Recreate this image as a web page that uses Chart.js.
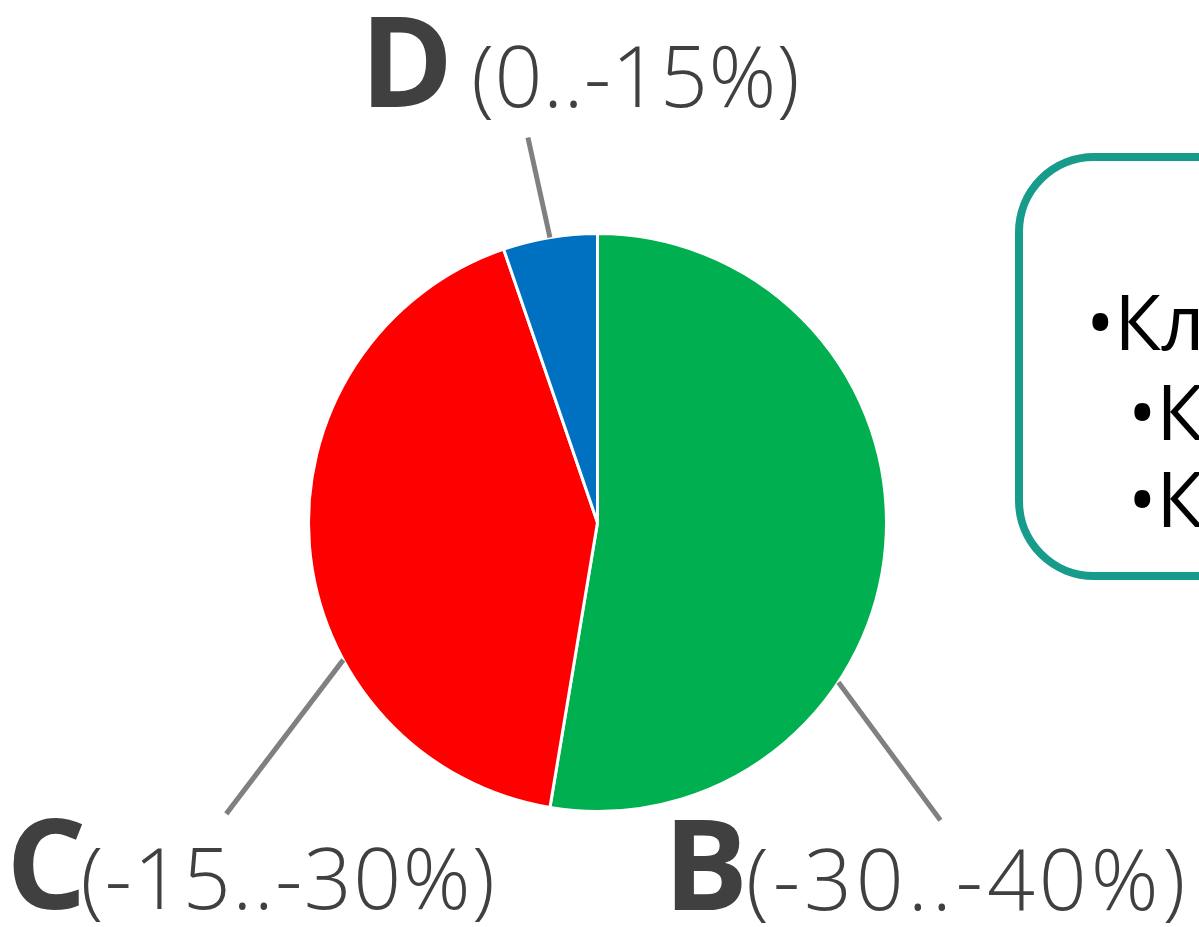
<!DOCTYPE html>
<html>
<head>
<meta charset="utf-8">
<script src="https://cdn.jsdelivr.net/npm/chart.js@4/dist/chart.umd.min.js"></script>
<style>
  html, body { margin: 0; padding: 0; background: #fff; overflow: hidden; }
  #wrap { width: 1199px; height: 927px; }
</style>
</head>
<body>
<div id="wrap"><canvas id="pie"></canvas></div>
<script>
(function () {
    'use strict';

    // slice data, clockwise from 12 o'clock
    const letters = ['B', 'C', 'D'];
    const ranges = ['(-30..-40%)', '(-15..-30%)', '(0..-15%)'];
    const values = [10, 8, 1];
    const colors = ['#00B050', '#FF0000', '#0070C0'];

    // text of the (clipped) box on the right
    const boxLines = ['•Клиенты', '•Конкуренты', '•Каналы'];

    // leader line placement: where on the slice rim it starts (0..1 across the slice),
    // the line vector, and where the label sits relative to the line end
    const leaders = [
        { t: 0.652, dx: 102, dy: 138, lx: -277, ly: 90, gap: -2, spacing: 4 },
        { t: 0.344, dx: -117, dy: 154, lx: -220, ly: 95, gap: -6, spacing: 1.5 },
        { t: 0.5, dx: -22, dy: -100, lx: -168, ly: -30, gap: 18, spacing: 0.5 }
    ];

    const TEXT = '#404040';
    const FONT = '"Open Sans", "Noto Sans", sans-serif';

    const labelsPlugin = {
        id: 'sliceLabels',
        afterDraw(chart) {
            const ctx = chart.ctx;
            const arcs = chart.getDatasetMeta(0).data;
            ctx.save();
            arcs.forEach((arc, i) => {
                const p = arc.getProps(['x', 'y', 'startAngle', 'endAngle', 'outerRadius'], true);
                const L = leaders[i];
                const a = p.startAngle + (p.endAngle - p.startAngle) * L.t;
                const sx = p.x + Math.cos(a) * p.outerRadius;
                const sy = p.y + Math.sin(a) * p.outerRadius;
                const ex = sx + L.dx;
                const ey = sy + L.dy;

                ctx.strokeStyle = '#808080';
                ctx.lineWidth = 5;
                ctx.beginPath();
                ctx.moveTo(sx, sy);
                ctx.lineTo(ex, ey);
                ctx.stroke();

                const tx = ex + L.lx;
                const ty = ey + L.ly;
                ctx.fillStyle = TEXT;
                ctx.textBaseline = 'alphabetic';
                ctx.textAlign = 'left';
                ctx.letterSpacing = '0px';
                ctx.font = 'bold 126px ' + FONT;
                ctx.fillText(letters[i], tx, ty);
                const w = ctx.measureText(letters[i]).width;
                ctx.font = '300 84px ' + FONT;
                ctx.letterSpacing = L.spacing + 'px';
                ctx.fillText(ranges[i], tx + w + L.gap, ty);
            });
            ctx.letterSpacing = '0px';

            // rounded box on the right, running off the canvas edge
            const bx = 1019, by = 157, bw = 400, bh = 419, r = 75;
            ctx.strokeStyle = '#179B8A';
            ctx.lineWidth = 8;
            ctx.beginPath();
            ctx.roundRect(bx, by, bw, bh, r);
            ctx.stroke();

            ctx.fillStyle = '#000';
            ctx.font = '76px ' + FONT;
            ctx.fillText(boxLines[0], 1086, 350);
            ctx.fillText(boxLines[1], 1128, 440);
            ctx.fillText(boxLines[2], 1128, 527);
            ctx.restore();
        }
    };

    new Chart(document.getElementById('pie'), {
        type: 'pie',
        data: {
            labels: letters,
            datasets: [{
                data: values,
                backgroundColor: colors,
                borderColor: '#ffffff',
                borderWidth: 3
            }]
        },
        options: {
            responsive: true,
            maintainAspectRatio: false,
            animation: false,
            layout: { padding: { top: 232, bottom: 114, left: 307, right: 311 } },
            plugins: {
                legend: { display: false },
                tooltip: { enabled: false }
            }
        },
        plugins: [labelsPlugin]
    });
})();
</script>
</body>
</html>
